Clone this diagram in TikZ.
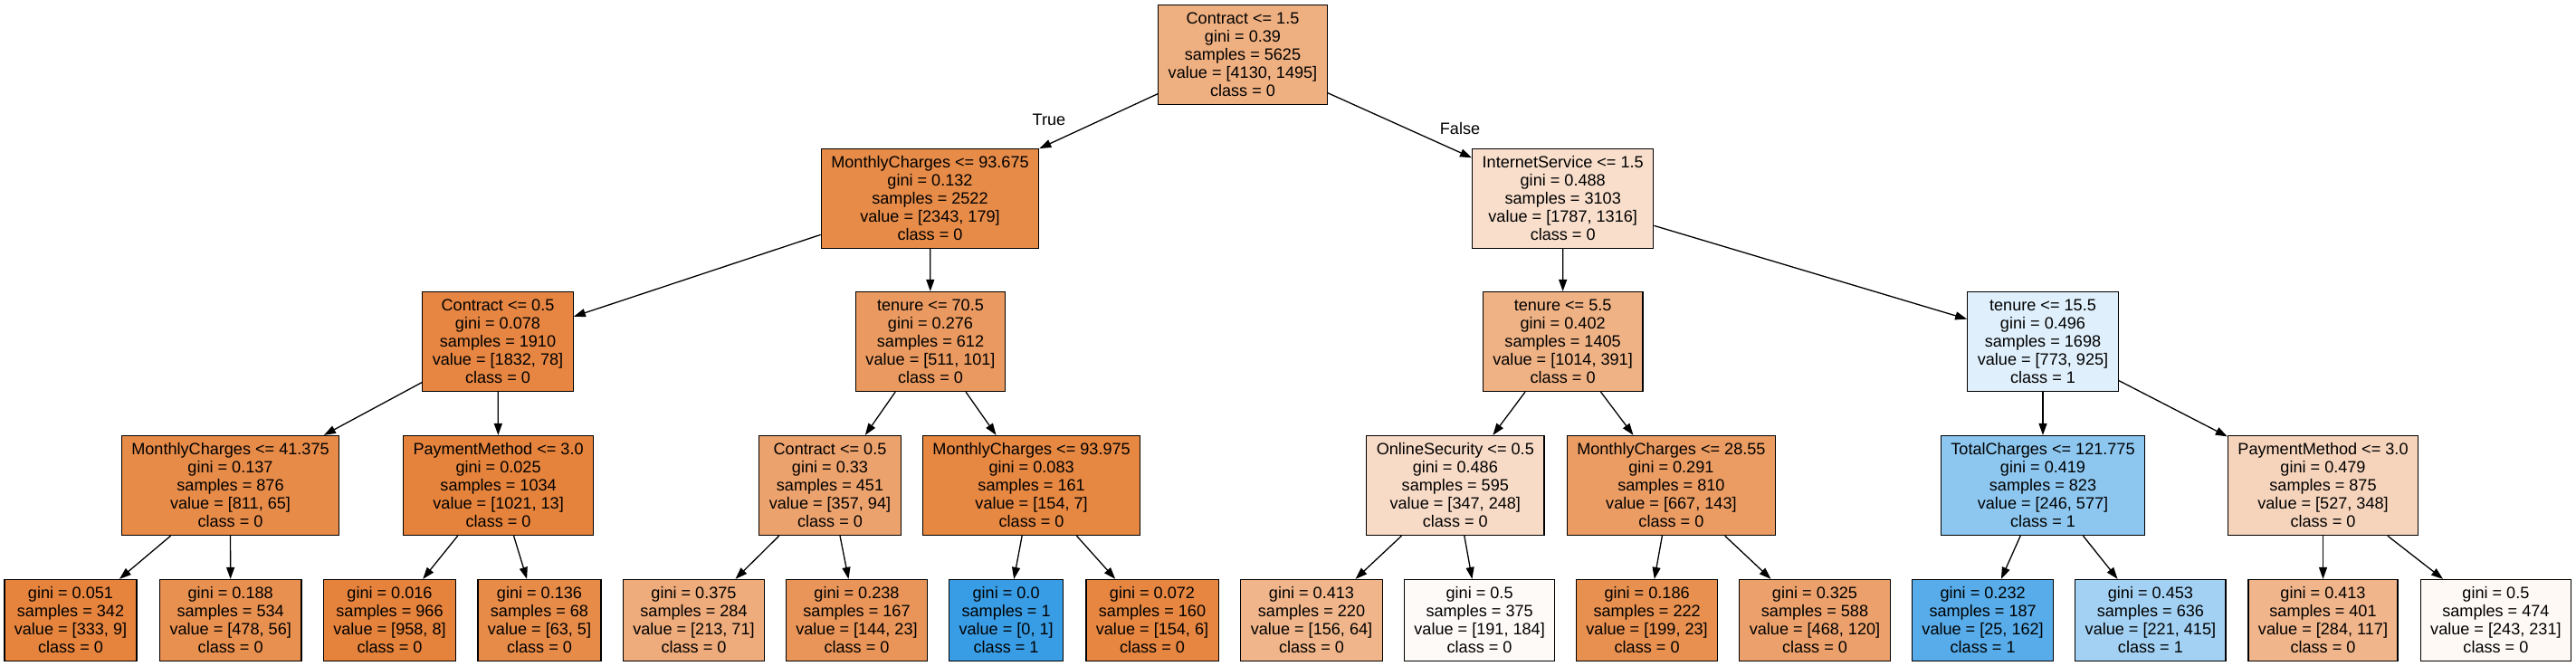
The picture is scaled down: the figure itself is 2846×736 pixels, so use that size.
\documentclass[tikz,border=0pt]{standalone}
\usepackage{fontspec}
\setmainfont{Liberation Sans}
\usetikzlibrary{arrows.meta}
\definecolor{cz}{RGB}{229,129,57}
\definecolor{co}{RGB}{57,157,229}
\newcommand\gs{\rule[-4.5pt]{0pt}{20pt}}
\newcommand\mkfive[5]{\gs #1\\\gs #2\\\gs #3\\\gs #4\\\gs #5}
\newcommand\mkfour[4]{\gs #1\\\gs #2\\\gs #3\\\gs #4}
\tikzset{
  tnode/.style={draw=black, line width=1.3pt, rectangle, inner xsep=11pt, inner ysep=0pt,
    minimum height=110pt, align=center, font=\fontsize{18.1pt}{20pt}\selectfont},
  tleaf/.style={tnode, minimum height=90pt},
  conn/.style={-{Triangle[length=13pt,width=9pt]}, line width=1.3pt, draw=black},
  elabel/.style={font=\fontsize{18.1pt}{20pt}\selectfont, inner sep=0pt}
}
\begin{document}
\begin{tikzpicture}[x=1pt,y=-1pt]
\useasboundingbox (0,0) rectangle (2846,736);
% level 0
\node[tnode, fill=cz!63.8!white] (n0) at (1373,60.5) {\mkfive{Contract <= 1.5}{gini = 0.39}{samples = 5625}{value = [4130, 1495]}{class = 0}};
% level 1
\node[tnode, fill=cz!92.4!white] (n1) at (1027.5,219.5) {\mkfive{MonthlyCharges <= 93.675}{gini = 0.132}{samples = 2522}{value = [2343, 179]}{class = 0}};
\node[tnode, fill=cz!26.4!white] (n2) at (1726.7,219.5) {\mkfive{InternetService <= 1.5}{gini = 0.488}{samples = 3103}{value = [1787, 1316]}{class = 0}};
% level 2
\node[tnode, fill=cz!95.7!white] (n3) at (550,377.5) {\mkfive{Contract <= 0.5}{gini = 0.078}{samples = 1910}{value = [1832, 78]}{class = 0}};
\node[tnode, fill=cz!80.2!white] (n4) at (1028,377.5) {\mkfive{tenure <= 70.5}{gini = 0.276}{samples = 612}{value = [511, 101]}{class = 0}};
\node[tnode, fill=cz!61.4!white] (n5) at (1726.6,377.5) {\mkfive{tenure <= 5.5}{gini = 0.402}{samples = 1405}{value = [1014, 391]}{class = 0}};
\node[tnode, fill=co!16.4!white] (n6) at (2257,377.5) {\mkfive{tenure <= 15.5}{gini = 0.496}{samples = 1698}{value = [773, 925]}{class = 1}};
% level 3
\node[tnode, fill=cz!92.0!white] (n7) at (254.5,536.5) {\mkfive{MonthlyCharges <= 41.375}{gini = 0.137}{samples = 876}{value = [811, 65]}{class = 0}};
\node[tnode, fill=cz!98.7!white] (n8) at (550.6,536.5) {\mkfive{PaymentMethod <= 3.0}{gini = 0.025}{samples = 1034}{value = [1021, 13]}{class = 0}};
\node[tnode, fill=cz!73.7!white] (n9) at (917,536.5) {\mkfive{Contract <= 0.5}{gini = 0.33}{samples = 451}{value = [357, 94]}{class = 0}};
\node[tnode, fill=cz!95.5!white] (n10) at (1139.6,536.5) {\mkfive{MonthlyCharges <= 93.975}{gini = 0.083}{samples = 161}{value = [154, 7]}{class = 0}};
\node[tnode, fill=cz!28.5!white] (n11) at (1607.8,536.5) {\mkfive{OnlineSecurity <= 0.5}{gini = 0.486}{samples = 595}{value = [347, 248]}{class = 0}};
\node[tnode, fill=cz!78.6!white] (n12) at (1846.4,536.5) {\mkfive{MonthlyCharges <= 28.55}{gini = 0.291}{samples = 810}{value = [667, 143]}{class = 0}};
\node[tnode, fill=co!57.4!white] (n13) at (2257,536.5) {\mkfive{TotalCharges <= 121.775}{gini = 0.419}{samples = 823}{value = [246, 577]}{class = 1}};
\node[tnode, fill=cz!34.0!white] (n14) at (2566.5,536.5) {\mkfive{PaymentMethod <= 3.0}{gini = 0.479}{samples = 875}{value = [527, 348]}{class = 0}};
% leaves
\node[tleaf, fill=cz!97.3!white] (l1) at (78,685.5) {\mkfour{gini = 0.051}{samples = 342}{value = [333, 9]}{class = 0}};
\node[tleaf, fill=cz!88.3!white] (l2) at (254.7,685.5) {\mkfour{gini = 0.188}{samples = 534}{value = [478, 56]}{class = 0}};
\node[tleaf, fill=cz!99.2!white] (l3) at (430.5,685.5) {\mkfour{gini = 0.016}{samples = 966}{value = [958, 8]}{class = 0}};
\node[tleaf, fill=cz!92.1!white] (l4) at (596,685.5) {\mkfour{gini = 0.136}{samples = 68}{value = [63, 5]}{class = 0}};
\node[tleaf, fill=cz!66.7!white] (l5) at (766.5,685.5) {\mkfour{gini = 0.375}{samples = 284}{value = [213, 71]}{class = 0}};
\node[tleaf, fill=cz!84.0!white] (l6) at (946.5,685.5) {\mkfour{gini = 0.238}{samples = 167}{value = [144, 23]}{class = 0}};
\node[tleaf, fill=co] (l7) at (1111.6,685.5) {\mkfour{gini = 0.0}{samples = 1}{value = [0, 1]}{class = 1}};
\node[tleaf, fill=cz!96.1!white] (l8) at (1273,685.5) {\mkfour{gini = 0.072}{samples = 160}{value = [154, 6]}{class = 0}};
\node[tleaf, fill=cz!59.0!white] (l9) at (1449,685.5) {\mkfour{gini = 0.413}{samples = 220}{value = [156, 64]}{class = 0}};
\node[tleaf, fill=cz!3.7!white] (l10) at (1634.6,685.5) {\mkfour{gini = 0.5}{samples = 375}{value = [191, 184]}{class = 0}};
\node[tleaf, fill=cz!88.4!white] (l11) at (1819.6,685.5) {\mkfour{gini = 0.186}{samples = 222}{value = [199, 23]}{class = 0}};
\node[tleaf, fill=cz!74.4!white] (l12) at (2005,685.5) {\mkfour{gini = 0.325}{samples = 588}{value = [468, 120]}{class = 0}};
\node[tleaf, fill=co!84.6!white] (l13) at (2190.6,685.5) {\mkfour{gini = 0.232}{samples = 187}{value = [25, 162]}{class = 1}};
\node[tleaf, fill=co!46.7!white] (l14) at (2375.9,685.5) {\mkfour{gini = 0.453}{samples = 636}{value = [221, 415]}{class = 1}};
\node[tleaf, fill=cz!58.8!white] (l15) at (2566.5,685.5) {\mkfour{gini = 0.413}{samples = 401}{value = [284, 117]}{class = 0}};
\node[tleaf, fill=cz!4.9!white] (l16) at (2757.4,685.5) {\mkfour{gini = 0.5}{samples = 474}{value = [243, 231]}{class = 0}};
% connectors
\draw[conn] (n0) -- (n1);
\draw[conn] (n0) -- (n2);
\draw[conn] (n1) -- (n3);
\draw[conn] (n1) -- (n4);
\draw[conn] (n2) -- (n5);
\draw[conn] (n2) -- (n6);
\draw[conn] (n3) -- (n7);
\draw[conn] (n3) -- (n8);
\draw[conn] (n4) -- (n9);
\draw[conn] (n4) -- (n10);
\draw[conn] (n5) -- (n11);
\draw[conn] (n5) -- (n12);
\draw[conn] (n6) -- (n13);
\draw[conn] (n6) -- (n14);
\draw[conn] (n7) -- (l1);
\draw[conn] (n7) -- (l2);
\draw[conn] (n8) -- (l3);
\draw[conn] (n8) -- (l4);
\draw[conn] (n9) -- (l5);
\draw[conn] (n9) -- (l6);
\draw[conn] (n10) -- (l7);
\draw[conn] (n10) -- (l8);
\draw[conn] (n11) -- (l9);
\draw[conn] (n11) -- (l10);
\draw[conn] (n12) -- (l11);
\draw[conn] (n12) -- (l12);
\draw[conn] (n13) -- (l13);
\draw[conn] (n13) -- (l14);
\draw[conn] (n14) -- (l15);
\draw[conn] (n14) -- (l16);
% edge labels
\node[elabel] (lt) at (1159,132) {True};
\node[elabel] (lf) at (1613,142) {False};
\end{tikzpicture}
\end{document}
